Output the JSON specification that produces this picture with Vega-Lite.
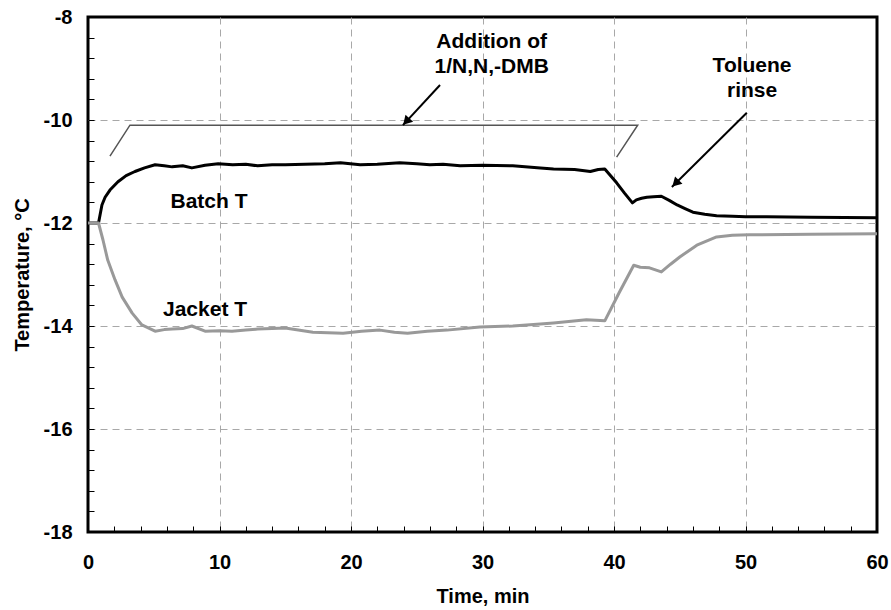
{
  "$schema": "https://vega.github.io/schema/vega-lite/v6.json",
  "width": 789,
  "height": 515,
  "autosize": {"type": "none"},
  "padding": {"left": 88, "top": 17, "right": 14, "bottom": 78},
  "background": "white",
  "config": {
    "view": {"stroke": "black", "strokeWidth": 3},
    "font": "Liberation Sans",
    "axis": {
      "domain": false,
      "labelFont": "Liberation Sans",
      "labelFontWeight": "bold",
      "labelFontSize": 20,
      "labelColor": "black",
      "titleFont": "Liberation Sans",
      "titleFontWeight": "bold",
      "titleFontSize": 20,
      "titleColor": "black",
      "tickColor": "black",
      "tickWidth": 1,
      "tickSize": -6,
      "gridColor": "#a8a8a8",
      "gridDash": [7, 5],
      "gridWidth": 1
    }
  },
  "datasets": {
    "temps": [
      {"series": "Batch T", "t": 0, "T": -12}, {"series": "Batch T", "t": 0.5, "T": -12}, {"series": "Batch T", "t": 0.8, "T": -12},
      {"series": "Batch T", "t": 1.06, "T": -11.65}, {"series": "Batch T", "t": 1.3, "T": -11.5}, {"series": "Batch T", "t": 1.67, "T": -11.36},
      {"series": "Batch T", "t": 2.28, "T": -11.2}, {"series": "Batch T", "t": 2.9, "T": -11.08}, {"series": "Batch T", "t": 3.57, "T": -11.0},
      {"series": "Batch T", "t": 4.3, "T": -10.93}, {"series": "Batch T", "t": 5.1, "T": -10.87}, {"series": "Batch T", "t": 5.8, "T": -10.89},
      {"series": "Batch T", "t": 6.4, "T": -10.91}, {"series": "Batch T", "t": 7.2, "T": -10.89}, {"series": "Batch T", "t": 7.9, "T": -10.93},
      {"series": "Batch T", "t": 8.9, "T": -10.88}, {"series": "Batch T", "t": 9.9, "T": -10.85}, {"series": "Batch T", "t": 11, "T": -10.87},
      {"series": "Batch T", "t": 12, "T": -10.86}, {"series": "Batch T", "t": 12.9, "T": -10.89}, {"series": "Batch T", "t": 14, "T": -10.87},
      {"series": "Batch T", "t": 15, "T": -10.87}, {"series": "Batch T", "t": 16.5, "T": -10.86}, {"series": "Batch T", "t": 18, "T": -10.85},
      {"series": "Batch T", "t": 19.2, "T": -10.83}, {"series": "Batch T", "t": 20.7, "T": -10.87}, {"series": "Batch T", "t": 22, "T": -10.86},
      {"series": "Batch T", "t": 23.7, "T": -10.83}, {"series": "Batch T", "t": 25, "T": -10.85}, {"series": "Batch T", "t": 26, "T": -10.87},
      {"series": "Batch T", "t": 27, "T": -10.86}, {"series": "Batch T", "t": 28.3, "T": -10.89}, {"series": "Batch T", "t": 30, "T": -10.88},
      {"series": "Batch T", "t": 32.3, "T": -10.89}, {"series": "Batch T", "t": 34.4, "T": -10.93}, {"series": "Batch T", "t": 35.4, "T": -10.95},
      {"series": "Batch T", "t": 37, "T": -10.96}, {"series": "Batch T", "t": 38.2, "T": -11.0}, {"series": "Batch T", "t": 38.8, "T": -10.96},
      {"series": "Batch T", "t": 39.3, "T": -10.95}, {"series": "Batch T", "t": 40.2, "T": -11.22}, {"series": "Batch T", "t": 40.8, "T": -11.42},
      {"series": "Batch T", "t": 41.4, "T": -11.61}, {"series": "Batch T", "t": 41.7, "T": -11.55}, {"series": "Batch T", "t": 42.1, "T": -11.52},
      {"series": "Batch T", "t": 42.5, "T": -11.5}, {"series": "Batch T", "t": 43.0, "T": -11.49}, {"series": "Batch T", "t": 43.6, "T": -11.48},
      {"series": "Batch T", "t": 44.2, "T": -11.56}, {"series": "Batch T", "t": 44.8, "T": -11.65}, {"series": "Batch T", "t": 45.4, "T": -11.72},
      {"series": "Batch T", "t": 46, "T": -11.79}, {"series": "Batch T", "t": 46.9, "T": -11.83}, {"series": "Batch T", "t": 47.8, "T": -11.86},
      {"series": "Batch T", "t": 49, "T": -11.87}, {"series": "Batch T", "t": 50, "T": -11.88}, {"series": "Batch T", "t": 51.6, "T": -11.88},
      {"series": "Batch T", "t": 55, "T": -11.89}, {"series": "Batch T", "t": 60, "T": -11.9},
      {"series": "Jacket T", "t": 0, "T": -12}, {"series": "Jacket T", "t": 0.5, "T": -12}, {"series": "Jacket T", "t": 0.8, "T": -12},
      {"series": "Jacket T", "t": 1.14, "T": -12.33}, {"series": "Jacket T", "t": 1.5, "T": -12.72}, {"series": "Jacket T", "t": 2.05, "T": -13.1},
      {"series": "Jacket T", "t": 2.6, "T": -13.44}, {"series": "Jacket T", "t": 3.36, "T": -13.75}, {"series": "Jacket T", "t": 4.1, "T": -13.98},
      {"series": "Jacket T", "t": 5.1, "T": -14.1}, {"series": "Jacket T", "t": 5.8, "T": -14.07}, {"series": "Jacket T", "t": 6.4, "T": -14.06},
      {"series": "Jacket T", "t": 7.2, "T": -14.05}, {"series": "Jacket T", "t": 7.9, "T": -14.0}, {"series": "Jacket T", "t": 8.9, "T": -14.1},
      {"series": "Jacket T", "t": 10, "T": -14.09}, {"series": "Jacket T", "t": 10.95, "T": -14.1}, {"series": "Jacket T", "t": 12, "T": -14.08},
      {"series": "Jacket T", "t": 12.9, "T": -14.06}, {"series": "Jacket T", "t": 14, "T": -14.05}, {"series": "Jacket T", "t": 15, "T": -14.04},
      {"series": "Jacket T", "t": 17.1, "T": -14.12}, {"series": "Jacket T", "t": 19.4, "T": -14.14}, {"series": "Jacket T", "t": 20.8, "T": -14.1},
      {"series": "Jacket T", "t": 22.2, "T": -14.08}, {"series": "Jacket T", "t": 23.3, "T": -14.12}, {"series": "Jacket T", "t": 24.3, "T": -14.14},
      {"series": "Jacket T", "t": 25.8, "T": -14.1}, {"series": "Jacket T", "t": 27.3, "T": -14.08}, {"series": "Jacket T", "t": 29.8, "T": -14.02},
      {"series": "Jacket T", "t": 32.3, "T": -14.0}, {"series": "Jacket T", "t": 34.4, "T": -13.96}, {"series": "Jacket T", "t": 35.4, "T": -13.94},
      {"series": "Jacket T", "t": 37.9, "T": -13.88}, {"series": "Jacket T", "t": 39.3, "T": -13.9}, {"series": "Jacket T", "t": 40.4, "T": -13.35},
      {"series": "Jacket T", "t": 41.5, "T": -12.82}, {"series": "Jacket T", "t": 42, "T": -12.86}, {"series": "Jacket T", "t": 42.7, "T": -12.87},
      {"series": "Jacket T", "t": 43.6, "T": -12.95}, {"series": "Jacket T", "t": 44.3, "T": -12.8}, {"series": "Jacket T", "t": 45, "T": -12.66},
      {"series": "Jacket T", "t": 46.3, "T": -12.43}, {"series": "Jacket T", "t": 47.8, "T": -12.27}, {"series": "Jacket T", "t": 49, "T": -12.24},
      {"series": "Jacket T", "t": 50.3, "T": -12.23}, {"series": "Jacket T", "t": 55, "T": -12.22}, {"series": "Jacket T", "t": 60, "T": -12.21}
    ],
    "bracket": [
      {"t": 1.67, "T": -10.7, "o": 1}, {"t": 3.19, "T": -10.1, "o": 2}, {"t": 41.8, "T": -10.1, "o": 3}, {"t": 40.2, "T": -10.72, "o": 4}
    ],
    "arrows": [
      {"id": "a1", "t": 26.77, "T": -9.32, "o": 1}, {"id": "a1", "t": 23.95, "T": -10.1, "o": 2},
      {"id": "a2", "t": 50.1, "T": -9.86, "o": 1}, {"id": "a2", "t": 44.4, "T": -11.3, "o": 2}
    ],
    "heads": [
      {"t": 24.2, "T": -10.03, "angle": 223}, {"t": 44.68, "T": -11.23, "angle": 225}
    ],
    "labels": [
      {"text": "Addition of", "t": 30.7, "T": -8.49, "align": "center"},
      {"text": "1/N,N,-DMB", "t": 30.7, "T": -8.97, "align": "center"},
      {"text": "Toluene", "t": 50.5, "T": -8.96, "align": "left"},
      {"text": "rinse", "t": 50.5, "T": -9.43, "align": "left"},
      {"text": "Batch T", "t": 9.2, "T": -11.59, "align": "center"},
      {"text": "Jacket T", "t": 8.9, "T": -13.69, "align": "center"}
    ]
  },
  "encoding": {
    "x": {
      "field": "t", "type": "quantitative",
      "scale": {"domain": [0, 60], "nice": false, "zero": false},
      "axis": {
        "title": "Time, min",
        "values": [0,2,4,6,8,10,12,14,16,18,20,22,24,26,28,30,32,34,36,38,40,42,44,46,48,50,52,54,56,58,60],
        "labelExpr": "datum.value % 10 === 0 ? datum.label : ''",
        "gridOpacity": {"condition": {"test": "datum.value % 10 === 0 && datum.value > 0 && datum.value < 60", "value": 1}, "value": 0},
        "labelPadding": 26,
        "titlePadding": 14,
        "labelFlush": false,
        "labelOverlap": false
      }
    },
    "y": {
      "field": "T", "type": "quantitative",
      "scale": {"domain": [-18, -8], "nice": false, "zero": false},
      "axis": {
        "title": "Temperature, °C",
        "values": [-18,-17.6,-17.2,-16.8,-16.4,-16,-15.6,-15.2,-14.8,-14.4,-14,-13.6,-13.2,-12.8,-12.4,-12,-11.6,-11.2,-10.8,-10.4,-10,-9.6,-9.2,-8.8,-8.4,-8],
        "labelExpr": "abs(round(datum.value*10)) % 20 === 0 ? '' + round(datum.value) : ''",
        "gridOpacity": {"condition": {"test": "abs(round(datum.value*10)) % 20 === 0 && datum.value > -18 && datum.value < -8", "value": 1}, "value": 0},
        "labelPadding": 22,
        "titlePadding": 11,
        "labelFlush": false,
        "labelOverlap": false
      }
    }
  },
  "layer": [
    {
      "data": {"name": "bracket"},
      "mark": {"type": "line", "color": "#555555", "strokeWidth": 1.5},
      "encoding": {"order": {"field": "o"}}
    },
    {
      "data": {"name": "temps"},
      "mark": {"type": "line", "strokeWidth": 3, "strokeJoin": "round"},
      "encoding": {
        "color": {"field": "series", "type": "nominal", "scale": {"domain": ["Batch T", "Jacket T"], "range": ["#000000", "#999999"]}, "legend": null},
        "order": {"field": "t"}
      }
    },
    {
      "data": {"name": "arrows"},
      "mark": {"type": "line", "color": "black", "strokeWidth": 2},
      "encoding": {"detail": {"field": "id"}, "order": {"field": "o"}}
    },
    {
      "data": {"name": "heads"},
      "mark": {"type": "point", "shape": "triangle-up", "filled": true, "color": "black", "size": 110, "opacity": 1},
      "encoding": {"angle": {"field": "angle", "type": "quantitative", "scale": null}}
    },
    {
      "data": {"name": "labels"},
      "mark": {"type": "text", "font": "Liberation Sans", "fontWeight": "bold", "fontSize": 21, "baseline": "middle", "color": "black"},
      "encoding": {"text": {"field": "text"}, "align": {"field": "align", "type": "nominal", "scale": null}}
    }
  ]
}
